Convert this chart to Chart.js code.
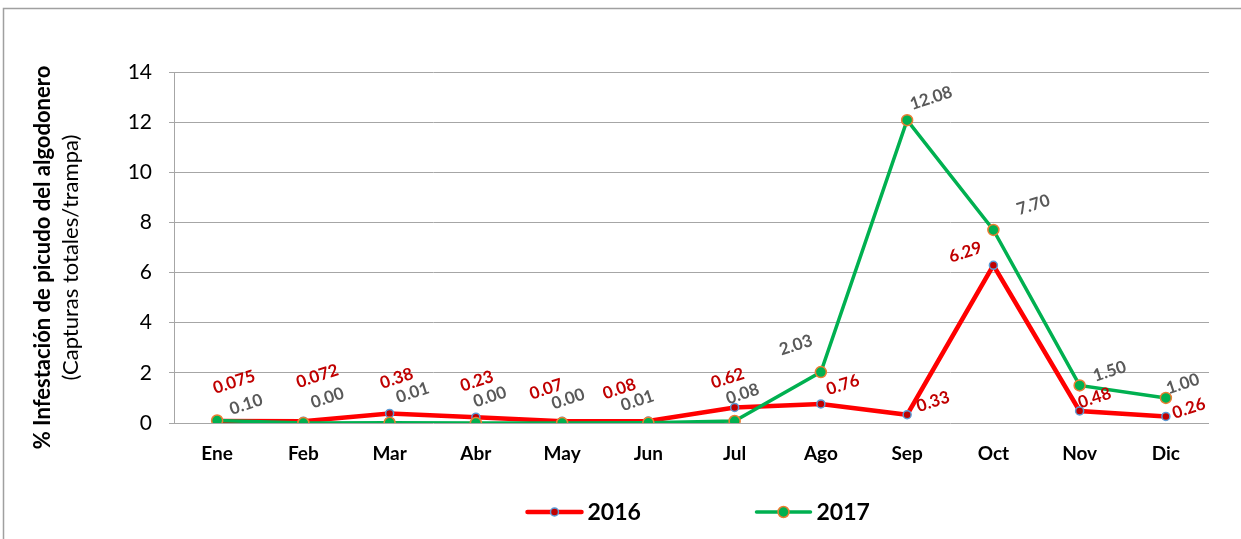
<!DOCTYPE html>
<html>
<head>
<meta charset="utf-8">
<script src="https://cdn.jsdelivr.net/npm/chart.js@4"></script>
<style>
  html, body { margin: 0; padding: 0; background: #fff; }
  #wrap { position: relative; width: 1241px; height: 539px; }
</style>
</head>
<body>
<div id="wrap"><canvas id="myChart" width="1241" height="539"></canvas></div>
<script>
const months = ['Ene', 'Feb', 'Mar', 'Abr', 'May', 'Jun', 'Jul', 'Ago', 'Sep', 'Oct', 'Nov', 'Dic'];
const values2016 = [0.075, 0.072, 0.38, 0.23, 0.07, 0.08, 0.62, 0.76, 0.33, 6.29, 0.48, 0.26];
const values2017 = [0.10, 0.00, 0.01, 0.00, 0.00, 0.01, 0.08, 2.03, 12.08, 7.70, 1.50, 1.00];
const labels2016 = ['0.075', '0.072', '0.38', '0.23', '0.07', '0.08', '0.62', '0.76', '0.33', '6.29', '0.48', '0.26'];
const labels2017 = ['0.10', '0.00', '0.01', '0.00', '0.00', '0.01', '0.08', '2.03', '12.08', '7.70', '1.50', '1.00'];
const yTicks = [0, 2, 4, 6, 8, 10, 12, 14];

// where each value label sits relative to its point (like the hand-moved labels in the original)
const offsets2016 = [[17,-39],[14,-45],[7,-35],[1,-36],[-16,-32],[-29,-32],[-7,-29],[22,-19],[26,-13],[-28,-13],[15,-13],[23,-8]];
const offsets2017 = [[29,-16],[24,-25],[23,-30],[14,-26],[6,-24],[-11,-22],[8,-27],[-25,-27],[24,-22],[40,-25],[30,-14],[17,-14]];

const FONT = 'Lato, "Open Sans", sans-serif';
const GRID = '#a6a6a6';

const valueLabels = {
  id: 'valueLabels',
  afterDatasetsDraw(chart) {
    const c = chart.ctx;
    chart.data.datasets.forEach((ds, i) => {
      const meta = chart.getDatasetMeta(i);
      meta.data.forEach((pt, j) => {
        const off = ds.labelOffsets[j];
        c.save();
        c.translate(pt.x + off[0], pt.y + off[1]);
        c.rotate(-18 * Math.PI / 180);
        c.font = 'bold 17px ' + FONT;
        c.fillStyle = ds.labelColor;
        c.textAlign = 'center';
        c.textBaseline = 'middle';
        c.fillText(ds.labelText[j], 0, 0);
        c.restore();
      });
    });
  }
};

const extras = {
  id: 'extras',
  afterDraw(chart) {
    const c = chart.ctx;
    const area = chart.chartArea;
    // outer frame
    c.save();
    c.strokeStyle = '#a0a0a0';
    c.lineWidth = 1.5;
    c.beginPath();
    c.moveTo(3.5, 539);
    c.lineTo(3.5, 8.5);
    c.lineTo(1241, 8.5);
    c.stroke();

    // y axis title, two lines
    const cy = (area.top + area.bottom) / 2 + 10;
    c.fillStyle = '#000';
    c.textAlign = 'center';
    c.textBaseline = 'middle';
    c.translate(43, cy);
    c.rotate(-Math.PI / 2);
    c.font = 'bold 22px ' + FONT;
    c.fillText('% Infestación de picudo del algodonero', 0, 0);
    c.font = '22px ' + FONT;
    c.fillText('(Capturas totales/trampa)', 0, 28);
    c.restore();

    // legend
    const mid = (area.left + area.right) / 2;
    const ly = 512;
    const items = [
      { ds: chart.data.datasets[0], x: mid - 164 },
      { ds: chart.data.datasets[1], x: mid + 65 }
    ];
    items.forEach(it => {
      const ds = it.ds;
      c.save();
      c.strokeStyle = ds.borderColor;
      c.lineWidth = ds.borderWidth;
      c.lineCap = 'round';
      c.beginPath();
      c.moveTo(it.x, ly);
      c.lineTo(it.x + 54, ly);
      c.stroke();
      c.beginPath();
      c.arc(it.x + 27, ly, ds.pointRadius, 0, Math.PI * 2);
      c.fillStyle = ds.pointBackgroundColor;
      c.fill();
      c.lineWidth = ds.pointBorderWidth;
      c.strokeStyle = ds.pointBorderColor;
      c.stroke();
      c.font = 'bold 23px ' + FONT;
      c.fillStyle = '#000';
      c.textAlign = 'left';
      c.textBaseline = 'middle';
      c.fillText(ds.label, it.x + 60, ly + 1);
      c.restore();
    });
  }
};

const ctx = document.getElementById('myChart').getContext('2d');
const myChart = new Chart(ctx, {
  type: 'line',
  data: {
    labels: months,
    datasets: [
      {
        label: '2016',
        data: values2016,
        borderColor: '#ff0000',
        borderWidth: 4.5,
        tension: 0,
        pointRadius: 4,
        pointBackgroundColor: '#c00000',
        pointBorderColor: '#5b9bd5',
        pointBorderWidth: 1.5,
        order: 2,
        labelText: labels2016,
        labelOffsets: offsets2016,
        labelColor: '#c00000'
      },
      {
        label: '2017',
        data: values2017,
        borderColor: '#00b050',
        borderWidth: 3.5,
        tension: 0,
        pointRadius: 5.5,
        pointBackgroundColor: '#00b050',
        pointBorderColor: '#ed7d31',
        pointBorderWidth: 1.5,
        order: 1,
        labelText: labels2017,
        labelOffsets: offsets2017,
        labelColor: '#595959'
      }
    ]
  },
  options: {
    responsive: false,
    animation: false,
    devicePixelRatio: 1,
    layout: { padding: { top: 72, right: 32, bottom: 76, left: 0 } },
    plugins: {
      legend: { display: false },
      tooltip: { enabled: false },
      title: { display: false }
    },
    scales: {
      x: {
        offset: true,
        grid: { display: false, drawTicks: false },
        border: { display: false },
        ticks: {
          color: '#000',
          padding: 19,
          font: { family: FONT, size: 19, weight: 'bold' }
        },
        afterFit(scale) { scale.height = 40; }
      },
      y: {
        min: 0,
        max: 14,
        afterBuildTicks(scale) { scale.ticks = yTicks.map(v => ({ value: v })); },
        grid: { color: GRID, lineWidth: 1, tickLength: 5, tickColor: GRID },
        border: { display: true, color: GRID, width: 1 },
        ticks: {
          color: '#000',
          padding: 17,
          font: { family: FONT, size: 21 }
        },
        afterFit(scale) { scale.width = 174; }
      }
    }
  },
  plugins: [valueLabels, extras]
});
</script>
</body>
</html>
